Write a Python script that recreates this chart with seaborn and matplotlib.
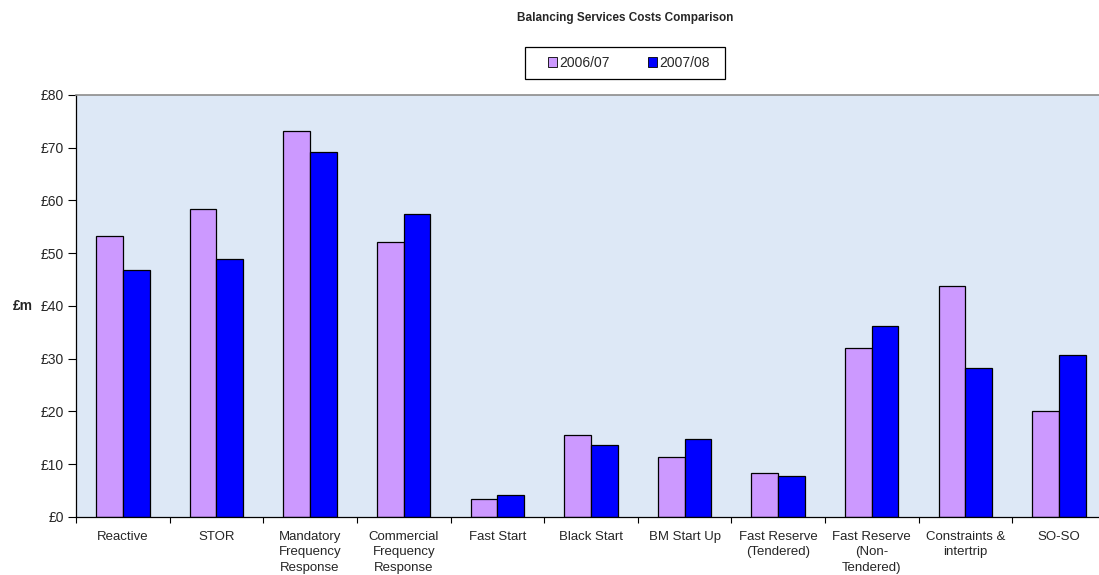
import matplotlib
matplotlib.use("Agg")
import matplotlib.pyplot as plt
from matplotlib.patches import Rectangle
from matplotlib.ticker import FixedLocator, FuncFormatter
import seaborn as sns
import pandas as pd

categories = [
    "Reactive", "STOR", "Mandatory\nFrequency\nResponse",
    "Commercial\nFrequency\nResponse", "Fast Start", "Black Start",
    "BM Start Up", "Fast Reserve\n(Tendered)", "Fast Reserve\n(Non-\nTendered)",
    "Constraints &\nintertrip", "SO-SO",
]
costs_2006_07 = [53.3, 58.4, 73.1, 52.2, 3.5, 15.5, 11.3, 8.3, 32.0, 43.8, 20.1]
costs_2007_08 = [46.9, 48.9, 69.1, 57.4, 4.1, 13.6, 14.8, 7.8, 36.2, 28.2, 30.8]
years = ["2006/07", "2007/08"]
year_colors = ["#cc99ff", "#0000ff"]
y_ticks = [0, 10, 20, 30, 40, 50, 60, 70, 80]

df = pd.DataFrame({
    "service": categories * 2,
    "year": [years[0]] * len(categories) + [years[1]] * len(categories),
    "cost": costs_2006_07 + costs_2007_08,
})

sns.set_theme(style="white")
plt.rcParams["font.family"] = ["Liberation Sans", "DejaVu Sans"]

W, H = 1099, 575
fig = plt.figure(figsize=(W / 100, H / 100), dpi=100)
ax = fig.add_axes([0.0692, 0.1009, 0.937, 0.7339])
ax.set_facecolor("#dde8f6")

sns.barplot(
    data=df, x="service", y="cost", hue="year", order=categories,
    hue_order=years, palette=year_colors, width=0.57, gap=0,
    edgecolor="black", linewidth=0.9, saturation=1, ax=ax, legend=True,
)

ax.set_xlim(-0.5, len(categories) - 0.5)
ax.set_ylim(0, 80)
ax.yaxis.set_major_locator(FixedLocator(y_ticks))
ax.yaxis.set_major_formatter(FuncFormatter(lambda v, _: f"£{v:.0f}"))
ax.tick_params(axis="y", which="major", direction="out", length=5.5, width=0.8,
               color="black", labelsize=10, pad=3, left=True)
ax.tick_params(axis="x", which="major", length=0, labelsize=9.5, pad=10)
ax.set_xticks([i + 0.5 for i in range(-1, len(categories))], minor=True)
ax.tick_params(axis="x", which="minor", direction="out", length=4, width=0.8,
               color="black", bottom=True)
for lbl in ax.get_xticklabels():
    lbl.set_linespacing(1.4)
    lbl.set_verticalalignment("top")

ax.set_xlabel("")
ax.set_ylabel("")
fig.text(22.5 / W, 0.1009 + 0.7339 / 2, "£m", ha="center", va="center",
         fontsize=10, fontweight="bold")

for side in ["left", "bottom"]:
    ax.spines[side].set_color("black")
    ax.spines[side].set_linewidth(0.9)
ax.spines["top"].set_color("#8c8c8c")
ax.spines["top"].set_linewidth(1.2)
ax.spines["right"].set_visible(False)
ax.grid(False)

# legend entries without a frame, boxed by a separate rectangle
leg = ax.legend(
    loc="center", bbox_to_anchor=(629 / W, 1 - 63 / H),
    bbox_transform=fig.transFigure, ncol=2, frameon=False, fontsize=10,
    handlelength=0.65, handleheight=0.65, handletextpad=0.2, columnspacing=2.7,
    borderpad=0, borderaxespad=0,
)
for h in leg.legend_handles:
    h.set_edgecolor("black")
    h.set_linewidth(0.6)
fig.patches.append(Rectangle(
    (525 / W, 1 - 79 / H), 200 / W, 32 / H, transform=fig.transFigure,
    facecolor="none", edgecolor="black", linewidth=0.9, zorder=5,
))

fig.text(0.569, 0.968, "Balancing Services Costs Comparison", ha="center",
         va="center", fontsize=8.5, fontweight="bold")

fig.savefig("out.png", dpi=100, facecolor="white")
